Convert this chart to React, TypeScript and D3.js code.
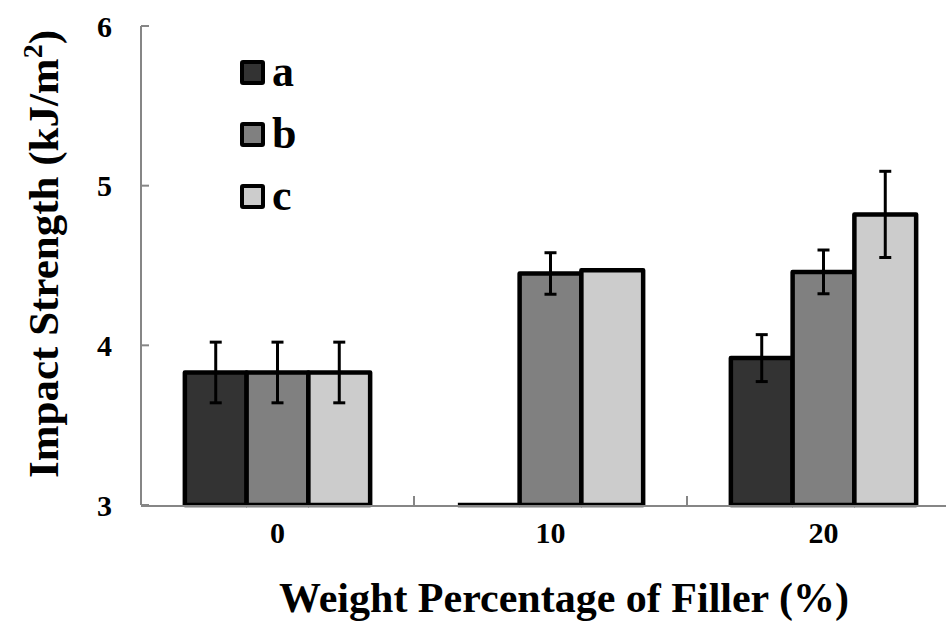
import React from "react";
import * as d3 from "d3";

// Filler content categories (wt%)
const categories = ["0", "10", "20"];
// Series keys shown in the legend
const seriesKeys = ["a", "b", "c"];
// Mean impact strength (kJ/m²) per series, one entry per category
const seriesA = [3.83, 3.0, 3.92];
const seriesB = [3.83, 4.45, 4.46];
const seriesC = [3.83, 4.47, 4.82];
// Standard deviation per series, one entry per category (0 = none drawn)
const errorA = [0.19, 0, 0.147];
const errorB = [0.19, 0.13, 0.137];
const errorC = [0.19, 0, 0.27];
// Y axis ticks
const yTicks = [3, 4, 5, 6];

const fills = ["#333333", "#808080", "#cccccc"];

const W = 946;
const H = 624;
const textStyle = { fontFamily: '"Liberation Serif"', fontWeight: 700 } as const;

export default function App() {
  const plotLeft = 141;
  const plotTop = 26;
  const plotBottom = 505;
  const step = 273;

  const y = d3.scaleLinear().domain([3, 6]).range([plotBottom, plotTop]);
  const x = d3
    .scaleBand<string>()
    .domain(categories)
    .range([plotLeft, plotLeft + step * categories.length])
    .padding(0);
  const xInner = d3
    .scaleBand<string>()
    .domain(seriesKeys)
    .range([0, x.bandwidth()])
    .paddingInner(0)
    .paddingOuter(0.71);

  const values = [seriesA, seriesB, seriesC];
  const errors = [errorA, errorB, errorC];

  const bars: { key: string; d: string; fill: string }[] = [];
  const errs: { key: string; cx: number; y1: number; y2: number }[] = [];
  categories.forEach((cat, ci) => {
    seriesKeys.forEach((s, si) => {
      const x0 = (x(cat) ?? 0) + (xInner(s) ?? 0);
      const x1 = x0 + xInner.bandwidth();
      const v = values[si][ci];
      const top = y(v);
      const path = d3.path();
      path.moveTo(x0, plotBottom);
      path.lineTo(x0, top);
      path.lineTo(x1, top);
      path.lineTo(x1, plotBottom);
      if (top < plotBottom) path.closePath();
      bars.push({ key: `${cat}-${s}`, d: path.toString(), fill: fills[si] });
      const e = errors[si][ci];
      if (e > 0) {
        errs.push({
          key: `${cat}-${s}`,
          cx: (x0 + x1) / 2,
          y1: y(v + e),
          y2: y(v - e),
        });
      }
    });
  });

  const capHalf = 6;
  const axisColor = "#868686";

  return (
    <svg width={W} height={H} style={{ position: "absolute", left: 0, top: 0, background: "#fff" }}>
      {/* axes */}
      <line x1={plotLeft} x2={plotLeft} y1={plotTop} y2={plotBottom} stroke={axisColor} strokeWidth={2} />
      {yTicks.map((t) => (
        <g key={t}>
          <line x1={plotLeft} x2={plotLeft + 8} y1={y(t)} y2={y(t)} stroke={axisColor} strokeWidth={2} />
          <text x={112} y={y(t)} dy="0.35em" textAnchor="end" fontSize={30} style={textStyle}>
            {t}
          </text>
        </g>
      ))}
      {categories.slice(1).map((c) => (
        <line
          key={c}
          x1={x(c)}
          x2={x(c)}
          y1={plotBottom}
          y2={plotBottom - 9}
          stroke={axisColor}
          strokeWidth={2}
        />
      ))}

      {/* bars */}
      {bars.map((b) => (
        <path
          key={b.key}
          d={b.d}
          fill={b.fill}
          stroke="#000"
          strokeWidth={4.5}
          strokeLinejoin="round"
        />
      ))}
      <line x1={plotLeft} x2={W} y1={plotBottom + 1} y2={plotBottom + 1} stroke={axisColor} strokeWidth={2} />

      {/* error bars */}
      {errs.map((e) => (
        <g key={e.key} stroke="#000" strokeWidth={3}>
          <line x1={e.cx} x2={e.cx} y1={e.y1} y2={e.y2} />
          <line x1={e.cx - capHalf} x2={e.cx + capHalf} y1={e.y1} y2={e.y1} />
          <line x1={e.cx - capHalf} x2={e.cx + capHalf} y1={e.y2} y2={e.y2} />
        </g>
      ))}

      {/* category labels */}
      {categories.map((c) => (
        <text
          key={c}
          x={(x(c) ?? 0) + x.bandwidth() / 2}
          y={543}
          textAnchor="middle"
          fontSize={30}
          style={textStyle}
        >
          {c}
        </text>
      ))}

      {/* legend */}
      {seriesKeys.map((s, i) => (
        <g key={s} transform={`translate(242, ${62 + i * 62})`}>
          <rect width={21} height={21} fill={fills[i]} stroke="#000" strokeWidth={4} rx={1} />
          <text x={30} y={24} fontSize={44} style={textStyle}>
            {s}
          </text>
        </g>
      ))}

      {/* axis titles */}
      <text x={564} y={612} textAnchor="middle" fontSize={42} style={textStyle}>
        Weight Percentage of Filler (%)
      </text>
      <text
        transform={`translate(58, 254) rotate(-90)`}
        textAnchor="middle"
        fontSize={43}
        style={textStyle}
      >
        Impact Strength (kJ/m
        <tspan fontSize={28} dy={-16}>
          2
        </tspan>
        <tspan dy={16}>)</tspan>
      </text>
    </svg>
  );
}
